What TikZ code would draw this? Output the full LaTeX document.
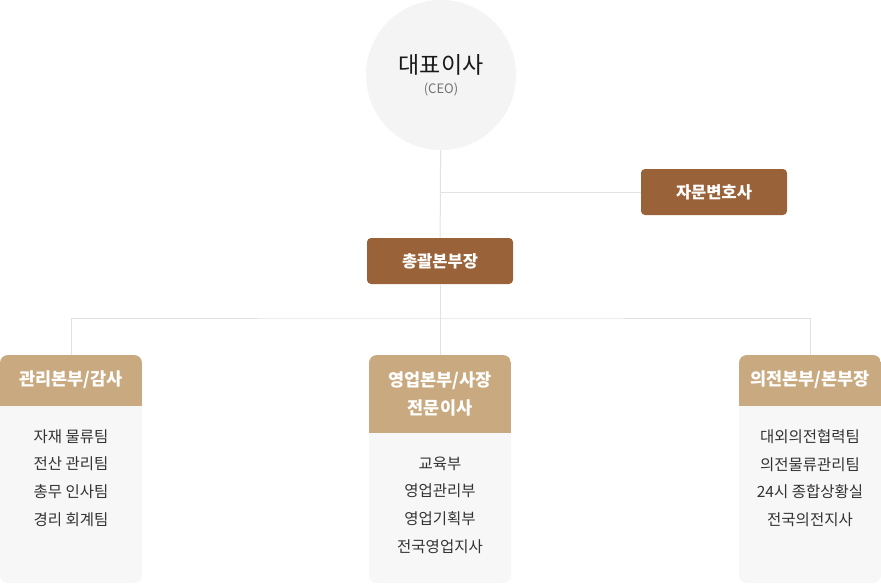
\documentclass[tikz,border=0pt]{standalone}
\usepackage{fontspec}
\setmainfont{Noto Sans CJK KR}
\usetikzlibrary{positioning,patterns}
\definecolor{brownbox}{HTML}{9A6238}
\definecolor{headtan}{HTML}{C9A97F}
\definecolor{bodygray}{HTML}{F7F7F7}
\definecolor{linegray}{HTML}{E2E2E2}
\definecolor{textgray}{HTML}{333333}
\begin{document}
\begin{tikzpicture}
        [x=1pt,y=-1pt,
         ceo_style/.style={circle,minimum size=150pt,inner sep=0pt,fill=black!3,
           postaction={pattern=north east lines,pattern color=black!6}},
         ceo_title/.style={inner sep=0pt,text=black!90,font=\fontsize{23}{26}\selectfont},
         ceo_sub/.style={inner sep=0pt,text=black!55,font=\fontsize{13}{15}\selectfont},
         boss_style/.style={rectangle,rounded corners=4pt,fill=brownbox,text=white,
           minimum width=146pt,minimum height=46pt,inner sep=0pt,
           font=\fontsize{16.5}{19}\selectfont\bfseries},
         col_style/.style={rectangle,rounded corners=8pt,fill=bodygray,
           minimum width=142pt,minimum height=228pt,inner sep=0pt},
         head_style/.style={text=white,align=center,inner sep=0pt,
           font=\fontsize{17.5}{28}\selectfont\bfseries},
         item_style/.style={text=textgray,align=center,inner sep=0pt,
           font=\fontsize{15.5}{27.7}\selectfont},
         edge_style/.style={draw=linegray,line width=1pt}]
            \useasboundingbox (0,0) rectangle (881,584);
            % top of the chart
            \node[ceo_style] (ceo) at (441, 75) {};
            \node[ceo_title] (ceotitle) at (441, 65) {대표이사};
            \node[ceo_sub] (ceosub) at (441, 89) {(CEO)};
            \node[boss_style] (lawyer) at (714, 192) {자문변호사};
            \node[boss_style] (general) at (440, 261) {총괄본부장};
            \coordinate (j1) at (441, 192);
            \coordinate (bus) at (441, 318);
            % columns
            \node[col_style] (left) at (71, 469) {};
            \node[col_style] (mid) at (440, 469) {};
            \node[col_style] (right) at (810, 469) {};
            \begin{scope}
              \clip[rounded corners=8pt] (0, 355) rectangle (142, 583);
              \fill[headtan] (0, 355) rectangle (142, 406);
            \end{scope}
            \begin{scope}
              \clip[rounded corners=8pt] (369, 355) rectangle (511, 583);
              \fill[headtan] (369, 355) rectangle (511, 433);
            \end{scope}
            \begin{scope}
              \clip[rounded corners=8pt] (739, 355) rectangle (881, 583);
              \fill[headtan] (739, 355) rectangle (881, 406);
            \end{scope}
            \node[head_style] (lefthead) at (71, 380) {관리본부/감사};
            \node[head_style] (midhead) at (440, 394) {영업본부/사장\\전문이사};
            \node[head_style] (righthead) at (810, 380) {의전본부/본부장};
            \node[item_style] (leftitems) at (71, 478) {자재 물류팀\\전산 관리팀\\총무 인사팀\\경리 회계팀};
            \node[item_style] (miditems) at (440, 505) {교육부\\영업관리부\\영업기획부\\전국영업지사};
            \node[item_style] (rightitems) at (810, 478) {대외의전협력팀\\의전물류관리팀\\24시 종합상황실\\전국의전지사};
            % connectors
            \draw[edge_style]  (ceo) -- (general);
            \draw[edge_style]  (j1) -- (j1 -| lawyer.west);
            \draw[edge_style]  (general) -- (mid.north);
            \draw[edge_style]  (left.north) |- (bus) -| (right.north);
        \end{tikzpicture}
\end{document}
